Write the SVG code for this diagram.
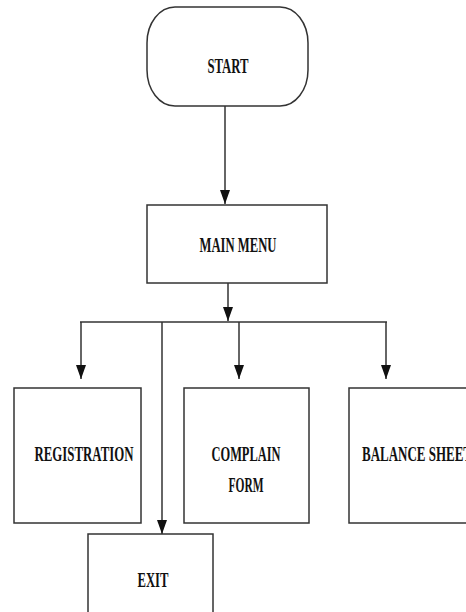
<svg xmlns="http://www.w3.org/2000/svg" width="466" height="612" viewBox="0 0 466 612">
<style>
.box{fill:#fff;stroke:#333;stroke-width:1.5}
.ln{fill:none;stroke:#333;stroke-width:1.5}
.t{font-family:"Liberation Serif","Times New Roman",serif;font-weight:bold;font-size:21px;fill:#111;text-anchor:middle}
</style>
<defs>
<marker id="ah" markerUnits="userSpaceOnUse" markerWidth="14" markerHeight="10" viewBox="0 0 14 10" refX="14" refY="5" orient="auto">
<path d="M0,0 L14,5 L0,10 Z" fill="#111"/>
</marker>
</defs>
<rect width="466" height="612" fill="#fff"/>
<g id="connectors">
<line class="ln" x1="225" y1="106" x2="225" y2="204" marker-end="url(#ah)"/>
<line class="ln" x1="228" y1="283" x2="228" y2="321" marker-end="url(#ah)"/>
<line class="ln" x1="80" y1="322" x2="387" y2="322"/>
<line class="ln" x1="81" y1="322" x2="81" y2="379" marker-end="url(#ah)"/>
<line class="ln" x1="239" y1="322" x2="239" y2="379" marker-end="url(#ah)"/>
<line class="ln" x1="386" y1="322" x2="386" y2="379" marker-end="url(#ah)"/>
<line class="ln" x1="162" y1="322" x2="162" y2="534" marker-end="url(#ah)"/>
</g>
<g id="start">
<rect class="box" x="147" y="7" width="161" height="99" rx="28" ry="36"/>
<text class="t" x="228" y="73" textLength="41" lengthAdjust="spacingAndGlyphs">START</text>
</g>
<g id="main-menu">
<rect class="box" x="147" y="205" width="180" height="78"/>
<text class="t" x="238" y="252" textLength="77" lengthAdjust="spacingAndGlyphs">MAIN MENU</text>
</g>
<g id="registration">
<rect class="box" x="14" y="388" width="127" height="135"/>
<text class="t" x="84" y="461" textLength="99" lengthAdjust="spacingAndGlyphs">REGISTRATION</text>
</g>
<g id="complain-form">
<rect class="box" x="184" y="388" width="125" height="135"/>
<text class="t" x="246" y="461" textLength="69" lengthAdjust="spacingAndGlyphs">COMPLAIN</text>
<text class="t" x="246" y="492" textLength="35" lengthAdjust="spacingAndGlyphs">FORM</text>
</g>
<g id="balance-sheet">
<rect class="box" x="349" y="388" width="130" height="135"/>
<text class="t" x="417" y="461" textLength="110" lengthAdjust="spacingAndGlyphs">BALANCE SHEET</text>
</g>
<g id="exit">
<rect class="box" x="88" y="534" width="125" height="90"/>
<text class="t" x="153" y="587" textLength="31" lengthAdjust="spacingAndGlyphs">EXIT</text>
</g>
</svg>
